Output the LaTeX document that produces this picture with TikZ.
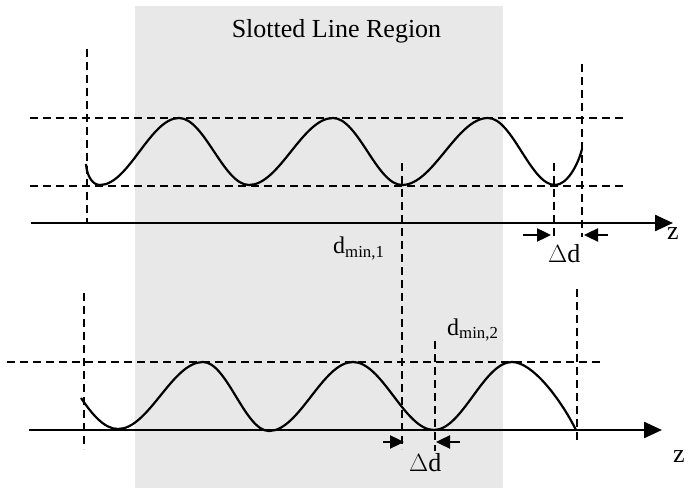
\documentclass[tikz,border=0pt]{standalone}
\usepackage{fontspec}
\setmainfont{Liberation Serif}
\usepackage{tikz}
\usetikzlibrary{arrows.meta}
\definecolor{slotgray}{RGB}{232,232,232}

\begin{document}
\begin{tikzpicture}[x=1pt,y=-1pt,
  guide/.style={line width=2pt, dash pattern=on 8pt off 5pt},
  zaxis/.style={line width=2.4pt, -{Triangle[length=18pt,width=16pt]}},
  wave/.style={line width=2.2pt},
  gapmark/.style={line width=2.4pt, -{Triangle[length=14pt,width=13pt]}},
  big/.style={font=\fontsize{26}{30}\selectfont, inner sep=0pt},
  small/.style={font=\fontsize{24}{28}\selectfont, inner sep=0pt}]
\useasboundingbox (0,0) rectangle (694,489);
% slotted line band
\fill[slotgray] (135,6) rectangle (503,488);
\node[big, anchor=base] (title) at (336.5,38) {Slotted Line Region};
% upper pattern: envelope lines
\draw[guide] (30,118) -- (623,118);
\draw[guide] (30,186) -- (623,186);
\draw[guide] (87,49) -- (87,222);
\draw[guide] (582,64) -- (582,237);
\draw[guide] (554,163) -- (554,240);
\draw[guide] (402,163) -- (402,449);
% upper pattern: axis and standing wave
\coordinate (z1s) at (31,223);
\coordinate (z1e) at (673,223);
\draw[zaxis] (z1s) -- (z1e);
\node[big, anchor=base west] (z1) at (667,240) {z};
\draw[wave] (86,164) .. controls (87,177) and (93,185) .. (100,185)
  .. controls (128.7,185) and (150.3,118) .. (179,118)
  .. controls (204.4,118) and (223.6,185) .. (249,185)
  .. controls (279.5,185) and (302.5,118) .. (333,118)
  .. controls (358,118) and (377,185) .. (402,185)
  .. controls (433.2,185) and (456.8,118) .. (488,118)
  .. controls (512.3,118) and (530.7,185) .. (555,185)
  .. controls (567,185) and (578,165) .. (582,149);
% upper pattern: shift marks
\coordinate (g1a) at (523,235);
\coordinate (g1b) at (551,235);
\coordinate (g1c) at (608,235);
\coordinate (g1d) at (584,235);
\draw[gapmark] (g1a) -- (g1b);
\draw[gapmark] (g1c) -- (g1d);
\node[big, anchor=base west] (dd1) at (548,263) {$\Delta$d};
\node[small, anchor=base west] (dmin1) at (333,254) {d\textsubscript{min,1}};
% lower pattern: envelope lines
\draw[guide] (7,362) -- (600,362);
\draw[guide] (84,293) -- (84,449);
\draw[guide] (577,289) -- (577,444);
\draw[guide] (435,341) -- (435,451);
% lower pattern: axis and standing wave
\coordinate (z2s) at (29,430);
\coordinate (z2e) at (662,430);
\draw[zaxis] (z2s) -- (z2e);
\node[big, anchor=base west] (z2) at (673,462) {z};
\draw[wave] (81,398) .. controls (92,414) and (104,429) .. (118,429)
  .. controls (148.9,429) and (172.1,362) .. (203,362)
  .. controls (227,362) and (245,431) .. (269,431)
  .. controls (299.5,431) and (322.5,362) .. (353,362)
  .. controls (382.4,362) and (404.6,430) .. (434,430)
  .. controls (462.3,430) and (483.7,362) .. (512,362)
  .. controls (532,362) and (560,398) .. (576,430);
% lower pattern: shift marks
\coordinate (g2a) at (383,442);
\coordinate (g2b) at (404,442);
\coordinate (g2c) at (460,442);
\coordinate (g2d) at (436,442);
\draw[gapmark] (g2a) -- (g2b);
\draw[gapmark] (g2c) -- (g2d);
\node[big, anchor=base west] (dd2) at (409,471) {$\Delta$d};
\node[small, anchor=base west] (dmin2) at (447,335) {d\textsubscript{min,2}};
\end{tikzpicture}
\end{document}
